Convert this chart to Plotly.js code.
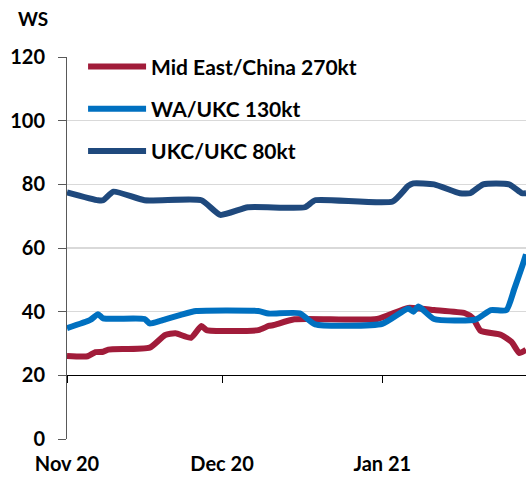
<!DOCTYPE html>
<html>
<head>
<meta charset="utf-8">
<script src="https://cdn.plot.ly/plotly-3.0.1.min.js"></script>
<style>html,body{margin:0;padding:0;background:#fff;}#chart{width:526px;height:477px;}</style>
</head>
<body>
<div id="chart"></div>
<script>
// Series names
const seriesNames = ["Mid East/China 270kt", "WA/UKC 130kt", "UKC/UKC 80kt"];

// Mid East/China 270kt
const meDates = ["2020-11-01","2020-11-05","2020-11-06 12:00","2020-11-08","2020-11-09","2020-11-17","2020-11-20","2020-11-22","2020-11-25","2020-11-27","2020-11-28","2020-12-08","2020-12-10","2020-12-11","2020-12-15","2020-12-31","2021-01-06","2021-01-11","2021-01-17","2021-01-18 12:00","2021-01-20","2021-01-24","2021-01-26","2021-01-27 12:00","2021-01-28 19:00"];
const meVals  = [26.1,26,27.3,27.4,28.1,28.7,32.7,33.2,31.8,35.5,34.2,34.2,35.5,35.8,37.6,37.7,41.2,40.5,39.5,38,34,32.7,30.5,27,28];

// WA/UKC 130kt
const waDates = ["2020-11-01","2020-11-05 12:00","2020-11-07","2020-11-08","2020-11-16","2020-11-17","2020-11-19","2020-11-20","2020-11-23","2020-11-26","2020-12-08","2020-12-10","2020-12-16","2020-12-19","2021-01-01","2021-01-06","2021-01-07","2021-01-08","2021-01-11","2021-01-19","2021-01-22","2021-01-25","2021-01-26 12:00","2021-01-28","2021-01-28 19:00"];
const waVals  = [34.8,37.4,39.2,37.9,37.7,36.3,37.1,37.6,39,40.2,40.2,39.4,39.5,36,36.2,41,40,41.6,37.7,37.5,40.5,40.5,47,54,58];

// UKC/UKC 80kt
const ukDates = ["2020-11-01","2020-11-07","2020-11-08","2020-11-10","2020-11-16","2020-11-27","2020-11-30 16:00","2020-12-06","2020-12-17","2020-12-19","2021-01-03","2021-01-06","2021-01-07","2021-01-11","2021-01-16","2021-01-18","2021-01-20 12:00","2021-01-25 12:00","2021-01-28","2021-01-28 19:00"];
const ukVals  = [77.5,75,75,77.7,75,75,70.4,72.8,72.8,75,74.6,79.5,80.3,80,77.2,77.2,80,80,77.2,77.2];

// Axis ticks
const xTickVals = ["2020-11-01","2020-12-01","2021-01-01"];
const xTickText = ["Nov 20","Dec 20","Jan 21"];
const yTickVals = [0,20,40,60,80,100,120];

const colors = ["#A11C3A","#0070C0","#1F497D"];
const font = {family:"Lato, sans-serif", size:20, color:"#000", weight:700};

function tr(i, x, y){
  return {x:x, y:y, name:seriesNames[i], type:"scatter", mode:"lines",
    legendgroup:"g"+i,
    line:{color:colors[i], width:6, shape:"spline", smoothing:0.5},
    hoverinfo:"skip"};
}
const data = [tr(0, meDates, meVals), tr(1, waDates, waVals), tr(2, ukDates, ukVals)];

const layout = {
  width:526, height:477,
  margin:{l:67, r:0, t:57, b:38},
  paper_bgcolor:"#fff", plot_bgcolor:"#fff",
  font:font,
  showlegend:true,
  legend:{x:0.035, y:1.028, xanchor:"left", yanchor:"top", bgcolor:"rgba(0,0,0,0)",
    font:{family:"Lato, sans-serif", size:21, color:"#000", weight:700},
    traceorder:"grouped", tracegroupgap:12, itemwidth:58},
  xaxis:{type:"date", range:["2020-11-01","2021-01-28 19:00"],
    tickvals:xTickVals, ticktext:xTickText, tickmode:"array",
    showgrid:false, zeroline:false,
    showline:true, linecolor:"#000", linewidth:1,
    ticks:"outside", ticklen:7, tickcolor:"#000", tickwidth:1,
    anchor:"free", position:20/120,
    ticklabelstandoff:64,
    tickfont:{family:"Lato, sans-serif", size:20, color:"#000", weight:700}},
  yaxis:{range:[0,120], tickvals:yTickVals, tickmode:"array",
    showgrid:true, gridcolor:"#D9D9D9", gridwidth:1.5, zeroline:false,
    showline:true, linecolor:"#595959", linewidth:1,
    ticks:"outside", ticklen:8, tickcolor:"#595959",
    ticklabelstandoff:9,
    tickfont:{family:"Lato, sans-serif", size:20, color:"#000", weight:700}},
  annotations:[{text:"WS", xref:"paper", yref:"paper", x:-0.073, y:1.102,
    xanchor:"center", yanchor:"middle", showarrow:false,
    font:{family:"Lato, sans-serif", size:19, color:"#000", weight:700}}]
};

Plotly.newPlot("chart", data, layout, {displayModeBar:false, staticPlot:true});
</script>
</body>
</html>
